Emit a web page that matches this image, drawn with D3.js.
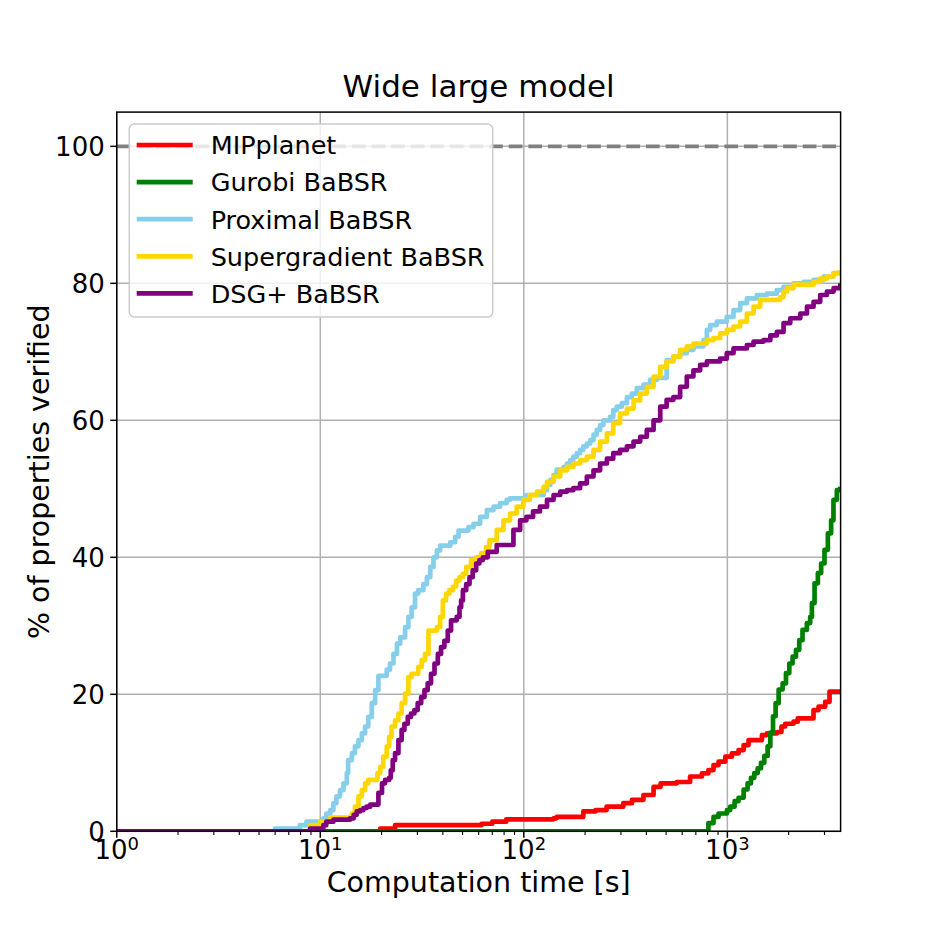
<!DOCTYPE html>
<html>
<head>
<meta charset="utf-8">
<script src="https://cdn.jsdelivr.net/npm/d3@7"></script>
<style>
  body { margin: 0; background: #fff; }
  text { font-family: "DejaVu Sans", sans-serif; fill: #000; }
</style>
</head>
<body>
<div id="chart-area"></div>
<script>
// series: [time in s, % verified]
const mipplanet = [[1,0],[19.7,0.4],[23.3,0.9],[62,1.1],[70,1.4],[82,1.75],[140,1.9],[145,2.1],[196,2.9],[225,3.1],[255,3.6],[308,4.1],[340,4.6],[387,5.3],[434,6.5],[470,7.0],[564,7.2],[656,8.0],[750,8.46],[807,8.94],[855,9.67],[905,10.16],[977,10.89],[1052,11.38],[1135,11.86],[1202,12.59],[1271,13.32],[1479,14.05],[1563,14.3],[1754,14.5],[1844,15.3],[1923,15.7],[2113,16.0],[2218,16.5],[2650,17.7],[2805,18.2],[3024,18.9],[3177,20.4],[3600,20.4]];
const gurobi = [[1,0],[807,1.2],[855,2.1],[905,2.6],[995,3.1],[1033,3.6],[1085,4.4],[1135,4.9],[1202,6.1],[1257,7.0],[1306,7.8],[1356,8.5],[1409,9.2],[1463,10.0],[1518,11.0],[1577,12.4],[1626,14.4],[1676,16.8],[1726,18.7],[1786,20.7],[1868,21.6],[1941,23.1],[2015,24.5],[2091,25.5],[2173,26.5],[2255,27.9],[2340,29.4],[2458,30.4],[2552,31.3],[2602,33.3],[2681,36.2],[2784,37.7],[2889,39.1],[3000,41.1],[3117,43.5],[3234,45.4],[3321,48.4],[3450,49.8],[3585,50.3]];
const proximal = [[1,0],[6.0,0.4],[7.94,0.9],[8.55,1.4],[10.35,1.9],[10.7,2.6],[11.2,3.1],[11.6,4.1],[12.0,5.1],[12.5,6.0],[13.0,7.0],[13.5,8.5],[13.7,10.4],[14.3,11.4],[14.8,12.4],[15.4,13.3],[16.0,14.3],[16.6,15.3],[17.2,16.7],[17.9,18.7],[18.6,20.6],[19.3,22.7],[21.2,23.6],[22.0,24.5],[22.9,25.9],[23.8,27.4],[24.7,28.3],[26.1,29.8],[27.1,31.3],[28.1,32.7],[29.2,34.7],[30.3,35.2],[32.1,36.1],[33.4,37.1],[34.7,38.6],[36.0,40.0],[37.4,41.0],[38.8,41.7],[43.5,42.2],[46.0,43.0],[47.8,43.9],[53.5,44.4],[56.6,44.9],[61.0,45.9],[65.8,46.9],[71.0,47.4],[76.4,47.9],[82.4,48.4],[85.6,48.6],[103,49.1],[125,49.8],[130,50.6],[135,51.3],[140,52.0],[145,52.8],[157,53.2],[163,53.7],[169,54.2],[175,54.7],[182,55.2],[189,55.7],[196,56.2],[204,56.6],[212,57.1],[220,57.9],[228,58.6],[237,59.3],[246,60.0],[265,60.5],[275,61.5],[286,62.0],[303,62.5],[321,63.4],[339,63.9],[359,64.7],[387,65.2],[417,65.9],[450,66.2],[503,68.8],[543,69.3],[586,69.8],[632,70.3],[681,70.8],[763,71.7],[793,73.2],[823,73.9],[887,74.4],[993,75.1],[1072,76.1],[1156,77.1],[1247,77.8],[1396,78.3],[1563,78.5],[1750,79.0],[1888,79.5],[2113,80.0],[2366,80.2],[2652,80.5],[2971,81.0],[3326,81.5],[3600,81.5]];
const supergradient = [[1,0],[8.91,0.9],[9.98,1.4],[11.2,2.0],[14.3,2.6],[14.8,3.6],[15.4,5.1],[16.0,6.0],[16.6,7.0],[17.2,7.5],[19.1,8.5],[19.7,9.4],[20.4,10.9],[21.2,12.4],[21.8,13.8],[22.4,15.3],[23.3,16.2],[24.2,17.2],[25.1,18.7],[26.1,20.1],[27.1,22.5],[28.1,23.0],[30.3,24.0],[31.5,25.0],[32.7,25.9],[34.0,29.3],[37.4,29.8],[38.8,31.3],[40.0,33.7],[41.5,34.7],[43.1,35.2],[44.8,35.7],[46.5,36.6],[48.3,37.1],[50.2,37.6],[52.1,38.6],[55.1,39.6],[58.3,40.0],[61.7,40.6],[65.3,41.5],[67.8,42.5],[73.6,44.0],[79.4,45.4],[85.6,46.4],[92.2,47.4],[99.5,48.4],[107,49.1],[116,49.6],[125,50.3],[130,51.0],[140,51.8],[151,52.7],[163,53.2],[175,53.7],[189,54.2],[204,54.7],[220,55.7],[237,56.9],[256,58.1],[275,59.6],[297,61.0],[321,61.7],[346,62.9],[373,63.9],[402,64.9],[434,66.4],[468,67.8],[503,68.6],[543,69.3],[586,70.3],[632,70.8],[681,71.2],[793,71.7],[855,72.0],[921,72.7],[993,73.2],[1072,73.7],[1156,74.4],[1247,75.6],[1345,76.6],[1449,77.6],[1819,78.0],[1888,78.8],[1963,79.3],[2113,79.8],[2652,80.2],[2858,80.7],[3083,81.0],[3326,81.5],[3589,81.9]];
const dsg = [[1,0],[8.9,0.4],[10.35,0.9],[10.7,1.4],[11.6,1.7],[14.0,1.9],[14.6,2.4],[15.1,2.9],[15.7,3.1],[16.3,3.4],[16.9,3.6],[17.6,3.9],[19.3,5.6],[20.1,7.0],[20.8,7.5],[21.8,7.8],[22.2,8.9],[22.7,10.4],[23.3,11.4],[24.2,13.3],[25.1,14.8],[25.9,15.7],[26.9,16.7],[27.9,17.2],[29.0,17.7],[30.1,18.7],[31.3,19.6],[32.5,20.6],[33.7,21.6],[35.0,23.0],[36.4,24.5],[37.8,25.9],[39.2,26.9],[40.7,27.8],[42.3,29.3],[43.9,30.8],[46.8,31.3],[48.3,32.7],[49.2,33.7],[50.2,35.2],[52.1,36.1],[54.1,37.1],[56.1,38.1],[58.3,39.1],[60.5,39.6],[62.9,40.0],[66.5,40.8],[73.6,41.8],[88.9,44.0],[95.9,45.4],[103,45.9],[111,46.7],[120,47.4],[130,48.4],[140,49.1],[151,49.6],[163,49.8],[175,50.1],[189,50.8],[204,51.8],[220,52.7],[237,53.7],[256,54.4],[275,55.2],[297,55.7],[321,56.2],[346,56.9],[373,57.6],[402,58.6],[434,60.0],[468,62.0],[503,63.0],[543,63.4],[586,64.9],[632,66.4],[681,67.3],[735,68.1],[793,68.6],[921,69.0],[993,69.8],[1072,70.5],[1247,71.0],[1345,71.5],[1506,71.7],[1626,72.4],[1750,72.9],[1888,74.2],[2037,74.9],[2282,75.6],[2461,76.6],[2652,77.3],[2858,78.3],[3083,78.8],[3326,79.3],[3589,80.0]];

const seriesNames = ['MIPplanet', 'Gurobi BaBSR', 'Proximal BaBSR', 'Supergradient BaBSR', 'DSG+ BaBSR'];
const seriesColors = ['red', 'green', 'skyblue', 'gold', 'purple'];
const seriesData = [mipplanet, gurobi, proximal, supergradient, dsg];

const yTicks = [0, 20, 40, 60, 80, 100];
const xTicks = [1, 10, 100, 1000];
const xTickExp = ['0', '1', '2', '3'];
const xMinorTicks = [2,3,4,5,6,7,8,9,20,30,40,50,60,70,80,90,200,300,400,500,600,700,800,900,2000,3000];

const W = 934, H = 934;
const margin = {left: 116.75, right: 93.4, top: 112.1, bottom: 102.7};
const width = W - margin.left - margin.right,
    height = H - margin.top - margin.bottom;

const svg = d3.select('#chart-area')
    .append('svg')
    .attr('width', W)
    .attr('height', H);

svg.append('defs').append('clipPath').attr('id', 'plot-clip')
    .append('rect').attr('width', width).attr('height', height);

const g = svg.append('g')
    .attr('transform', 'translate(' + margin.left + ', ' + margin.top + ')');

const xScale = d3.scaleLog()
    .domain([1, 3600])
    .range([0, width]);

const yScale = d3.scaleLinear()
    .domain([0, 105])
    .range([height, 0]);

// grid
g.selectAll('.xgrid').data(xTicks).enter().append('line')
    .attr('x1', d => xScale(d)).attr('x2', d => xScale(d))
    .attr('y1', 0).attr('y2', height)
    .attr('stroke', '#b0b0b0').attr('stroke-width', 1.5);
g.selectAll('.ygrid').data(yTicks).enter().append('line')
    .attr('y1', d => yScale(d)).attr('y2', d => yScale(d))
    .attr('x1', 0).attr('x2', width)
    .attr('stroke', '#b0b0b0').attr('stroke-width', 1.5);

// 100% reference line
g.append('line')
    .attr('x1', 0).attr('x2', width)
    .attr('y1', yScale(100)).attr('y2', yScale(100))
    .attr('stroke', 'gray').attr('stroke-width', 3.7)
    .attr('stroke-dasharray', '13.7,5.9');

const line = d3.line()
    .x(d => xScale(d[0]))
    .y(d => yScale(d[1]))
    .curve(d3.curveStepAfter);

const plot = g.append('g').attr('clip-path', 'url(#plot-clip)');
seriesData.forEach((data, i) => {
    plot.append('path')
        .datum(data)
        .attr('d', line)
        .attr('fill', 'none')
        .attr('stroke', seriesColors[i])
        .attr('stroke-width', 4.7)
        .attr('stroke-linejoin', 'round');
});

// axes
const xAxis = g.append('g').attr('transform', 'translate(0, ' + height + ')');
xAxis.selectAll('.minor').data(xMinorTicks).enter().append('line')
    .attr('x1', d => xScale(d)).attr('x2', d => xScale(d))
    .attr('y1', 0).attr('y2', 3.7)
    .attr('stroke', '#000').attr('stroke-width', 1.1);
xAxis.selectAll('.major').data(xTicks).enter().append('line')
    .attr('x1', d => xScale(d)).attr('x2', d => xScale(d))
    .attr('y1', 0).attr('y2', 6.5)
    .attr('stroke', '#000').attr('stroke-width', 1.5);
const xLab = xAxis.selectAll('.xlab').data(xTicks).enter().append('text')
    .attr('x', d => xScale(d))
    .attr('y', 28)
    .attr('text-anchor', 'middle')
    .attr('font-size', '26px');
xLab.append('tspan').text('10');
xLab.append('tspan').text((d, i) => xTickExp[i])
    .attr('font-size', '18px')
    .attr('dy', -9);

const yAxis = g.append('g');
yAxis.selectAll('.major').data(yTicks).enter().append('line')
    .attr('x1', -6.5).attr('x2', 0)
    .attr('y1', d => yScale(d)).attr('y2', d => yScale(d))
    .attr('stroke', '#000').attr('stroke-width', 1.5);
yAxis.selectAll('.ylab').data(yTicks).enter().append('text')
    .attr('x', -12)
    .attr('y', d => yScale(d) + 9.6)
    .attr('text-anchor', 'end')
    .attr('font-size', '26px')
    .text(d => d);

// frame
g.append('rect')
    .attr('width', width).attr('height', height)
    .attr('fill', 'none').attr('stroke', '#000').attr('stroke-width', 1.5);

// labels
svg.append('text')
    .text('Wide large model')
    .attr('x', margin.left + width / 2)
    .attr('y', 97)
    .attr('text-anchor', 'middle')
    .attr('font-size', '31px');

svg.append('text')
    .text('Computation time [s]')
    .attr('x', margin.left + width / 2)
    .attr('y', 892)
    .attr('text-anchor', 'middle')
    .attr('font-size', '28.5px');

svg.append('text')
    .text('% of properties verified')
    .attr('transform', 'translate(49, ' + (margin.top + height / 2) + ') rotate(-90)')
    .attr('text-anchor', 'middle')
    .attr('font-size', '28.5px');

// legend
const legend = svg.append('g');
legend.append('rect')
    .attr('x', 129.3).attr('y', 124)
    .attr('width', 363.4).attr('height', 193)
    .attr('rx', 5)
    .attr('fill', '#fff').attr('fill-opacity', 0.8)
    .attr('stroke', '#cccccc').attr('stroke-width', 1.5);
seriesNames.forEach((name, i) => {
    const yy = 145 + i * 37.1;
    legend.append('line')
        .attr('x1', 136.7).attr('x2', 192.7)
        .attr('y1', yy).attr('y2', yy)
        .attr('stroke', seriesColors[i]).attr('stroke-width', 4.7);
    legend.append('text')
        .text(name)
        .attr('x', 210.7)
        .attr('y', yy + 9.3)
        .attr('font-size', '25.5px');
});
</script>
</body>
</html>
